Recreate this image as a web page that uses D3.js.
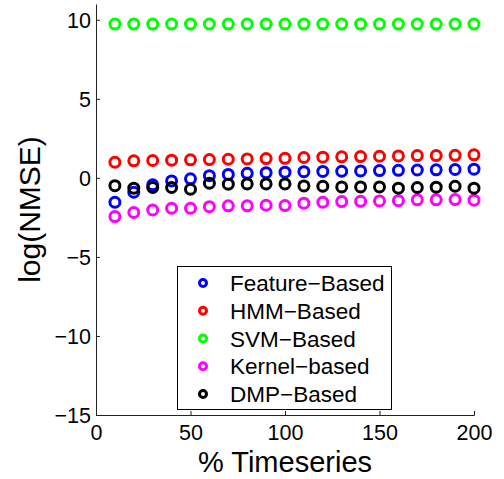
<!DOCTYPE html>
<html>
<head>
<meta charset="utf-8">
<script src="https://cdn.jsdelivr.net/npm/d3@7"></script>
<style>
  html, body { margin: 0; padding: 0; background: #fff; }
  svg { display: block; font-family: "Liberation Sans", Arial, Helvetica, sans-serif; }
</style>
</head>
<body>
<svg id="chart" width="504" height="479"></svg>
<script>
// Percentage of timeseries used (x) and log(NMSE) per method (y)
const pctTimeseries = [10, 20, 30, 40, 50, 60, 70, 80, 90, 100, 110, 120, 130, 140, 150, 160, 170, 180, 190, 200];

const featureBased = [-1.54, -0.91, -0.44, -0.19, -0.06, 0.14, 0.22, 0.29, 0.33, 0.36, 0.39, 0.41, 0.42, 0.44, 0.46, 0.48, 0.50, 0.51, 0.53, 0.55];
const hmmBased     = [0.99, 1.08, 1.10, 1.12, 1.14, 1.16, 1.18, 1.20, 1.22, 1.24, 1.29, 1.31, 1.33, 1.35, 1.37, 1.39, 1.41, 1.41, 1.43, 1.46];
const svmBased     = [9.73, 9.73, 9.73, 9.73, 9.73, 9.73, 9.73, 9.73, 9.73, 9.73, 9.73, 9.73, 9.73, 9.73, 9.73, 9.73, 9.73, 9.73, 9.73, 9.73];
const kernelBased  = [-2.45, -2.19, -2.03, -1.92, -1.92, -1.82, -1.77, -1.77, -1.73, -1.75, -1.60, -1.54, -1.50, -1.48, -1.46, -1.44, -1.39, -1.39, -1.37, -1.41];
const dmpBased     = [-0.49, -0.65, -0.61, -0.61, -0.72, -0.34, -0.40, -0.38, -0.38, -0.38, -0.51, -0.53, -0.57, -0.57, -0.57, -0.65, -0.61, -0.59, -0.53, -0.65];

const seriesNames  = ["Feature\u2212Based", "HMM\u2212Based", "SVM\u2212Based", "Kernel\u2212based", "DMP\u2212Based"];
const seriesColors = ["#0000ff", "#ff0000", "#00ff00", "#ff00ff", "#000000"];
const seriesValues = [featureBased, hmmBased, svmBased, kernelBased, dmpBased];

const xTicks = [0, 50, 100, 150, 200];
const yTicks = [-15, -10, -5, 0, 5, 10];

const svg = d3.select("#chart");

const x = d3.scaleLinear().domain([0, 200]).range([96, 474]);
const y = d3.scaleLinear().domain([-15, 11]).range([415, 4]);

// Axes (left and bottom only, ticks pointing inward)
const xAxis = d3.axisBottom(x).tickValues(xTicks).tickSizeInner(-4).tickSizeOuter(-4).tickPadding(10);
const yAxis = d3.axisLeft(y).tickValues(yTicks).tickSizeInner(-4).tickSizeOuter(0).tickPadding(5);

const gx = svg.append("g").attr("transform", `translate(0,${y(-15)})`).call(xAxis);
const gy = svg.append("g").attr("transform", `translate(${x(0)},0)`).call(yAxis);

[gx, gy].forEach(g => {
  g.selectAll("path.domain").attr("stroke", "#222").attr("stroke-width", 1);
  g.selectAll(".tick line").attr("stroke", "#222").attr("stroke-width", 1);
  g.selectAll(".tick text").attr("fill", "#000").style("font-size", "21.5px")
    .style("font-family", '"Liberation Sans", Arial, sans-serif');
});
gx.selectAll(".tick text").attr("dy", "0.71em");
gy.selectAll(".tick text").attr("dy", "0.35em");

// Series markers: open circles, black drawn last
seriesValues.forEach((vals, i) => {
  svg.append("g")
    .selectAll("circle")
    .data(vals.map((v, j) => [pctTimeseries[j], v]))
    .join("circle")
    .attr("cx", d => x(d[0]))
    .attr("cy", d => y(d[1]))
    .attr("r", 5)
    .attr("fill", "none")
    .attr("stroke", seriesColors[i])
    .attr("stroke-width", 3);
});

// Axis titles
svg.append("text")
  .attr("x", (x(0) + x(200)) / 2)
  .attr("y", 472)
  .attr("text-anchor", "middle")
  .style("font-size", "29px")
  .text("% Timeseries");

svg.append("text")
  .attr("transform", `translate(40,${(y(11) + y(-15)) / 2}) rotate(-90)`)
  .attr("text-anchor", "middle")
  .style("font-size", "30px")
  .text("log(NMSE)");

// Legend
const legend = svg.append("g");
legend.append("rect")
  .attr("x", 177.5).attr("y", 266.5)
  .attr("width", 214).attr("height", 143)
  .attr("fill", "#fff").attr("stroke", "#000").attr("stroke-width", 1);

const rowY = d3.scalePoint().domain(seriesNames).range([283, 394]);
seriesNames.forEach((name, i) => {
  legend.append("circle")
    .attr("cx", 203).attr("cy", rowY(name))
    .attr("r", 3.5).attr("fill", "none")
    .attr("stroke", seriesColors[i]).attr("stroke-width", 3);
  legend.append("text")
    .attr("x", 230).attr("y", rowY(name))
    .attr("dy", "0.36em")
    .style("font-size", "22.5px")
    .text(name);
});
</script>
</body>
</html>
